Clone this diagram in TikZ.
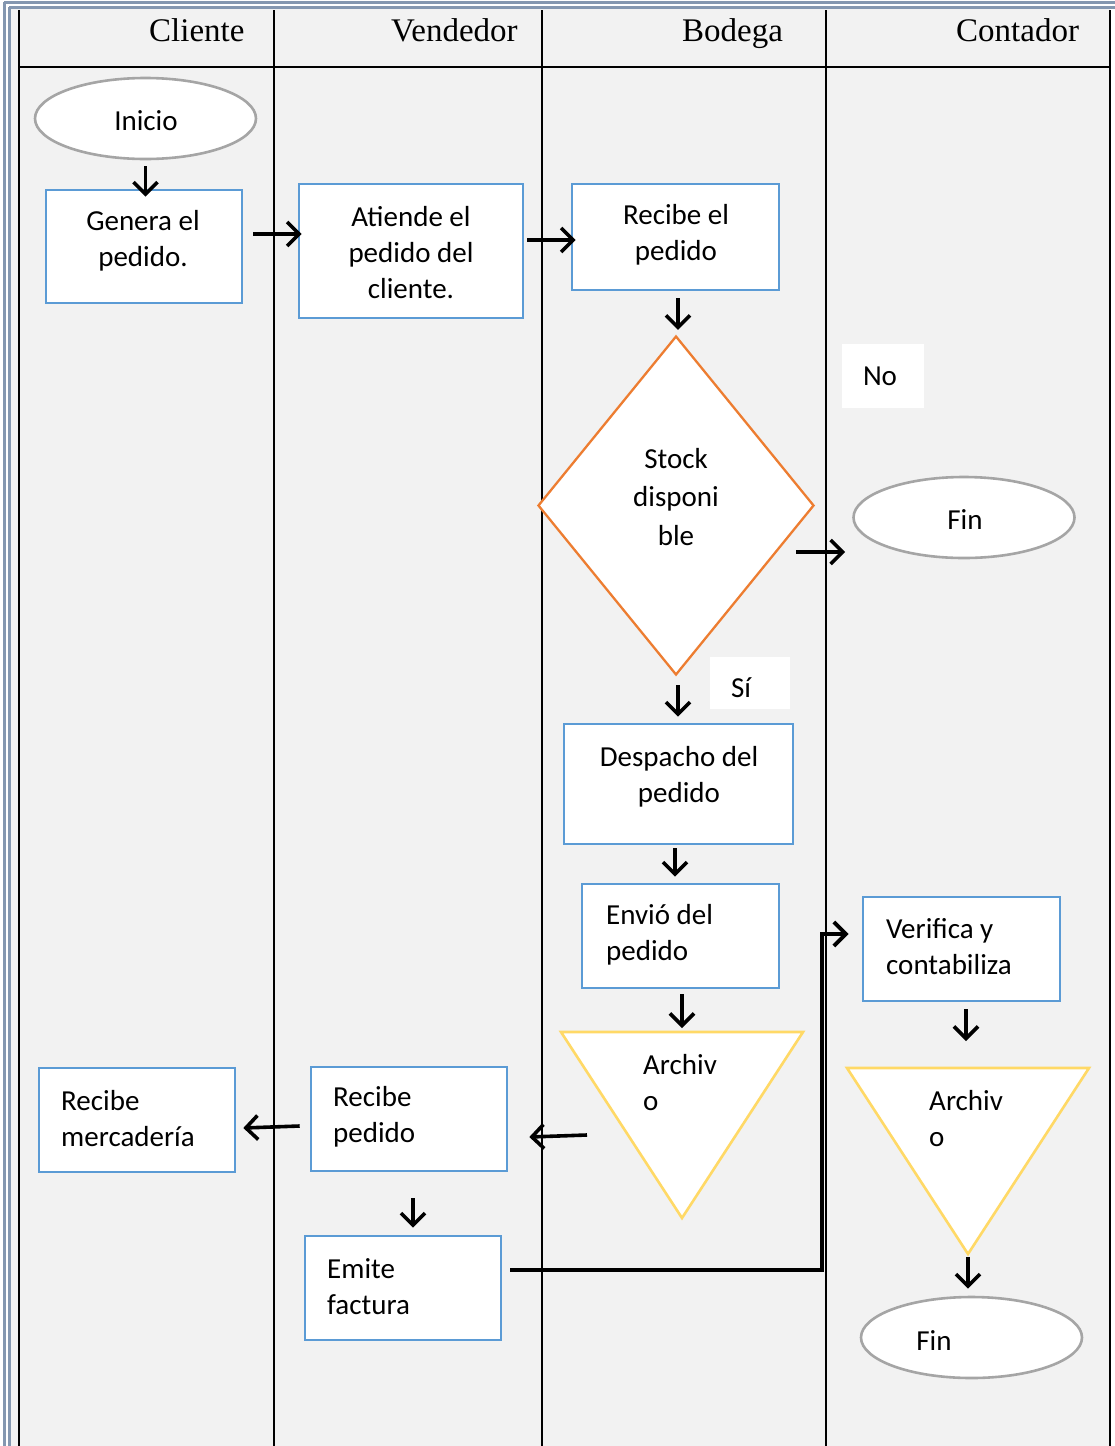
\documentclass[tikz,border=0pt]{standalone}
\usepackage{fontspec}
\setmainfont{Liberation Serif}
\newfontfamily\calfont{Carlito}
\usetikzlibrary{arrows.meta,calc,shapes.geometric}
\definecolor{bgc}{HTML}{F2F2F2}
\definecolor{pageline}{HTML}{8497B0}
\definecolor{boxblue}{HTML}{5B9BD5}
\definecolor{dorange}{HTML}{ED7D31}
\definecolor{tyellow}{HTML}{FFD966}
\definecolor{ellgray}{HTML}{A5A5A5}
\tikzset{
  lane/.style={line width=2.8pt,black},
  pageb/.style={line width=2.2pt,pageline},
  procbox/.style={draw=boxblue,line width=2.6pt,fill=white,rectangle,inner sep=0pt},
  termell/.style={draw=ellgray,line width=2.6pt,fill=white,ellipse,inner sep=0pt,minimum width=221pt,minimum height=81pt},
  decis/.style={draw=dorange,line width=2.3pt,fill=white,diamond,inner sep=0pt},
  archtri/.style={draw=tyellow,line width=2.6pt,fill=white,line join=miter},
  lbl/.style={fill=white,inner sep=0pt,font=\calfont\fontsize{29}{36}\selectfont},
  txt/.style={inner sep=0pt,align=center,font=\calfont\fontsize{29}{36}\selectfont},
  ltxt/.style={inner sep=0pt,align=left,anchor=west,font=\calfont\fontsize{29}{36}\selectfont},
  head/.style={inner sep=0pt,anchor=base west,font=\fontsize{33}{38}\selectfont},
  arr/.style={line width=3.6pt,black,-{Straight Barb[length=12pt,width=24pt]}},
}
\begin{document}
\begin{tikzpicture}[x=1pt,y=-1pt]
\useasboundingbox (0,0) rectangle (1115,1446);
% background and page border
\fill[white] (0,0) rectangle (1115,1446);
\fill[bgc] (10,8) rectangle (1110,1446);
\draw[pageb] (4,2.5) -- (1115,2.5);
\draw[pageb] (9,7.5) -- (1115,7.5);
\draw[pageb] (4.5,2) -- (4.5,1446);
\draw[pageb] (9.5,7) -- (9.5,1446);
% lanes
\foreach \xx in {19,274,542,826,1110} \draw[lane] (\xx,10) -- (\xx,1446);
\draw[lane] (19,67) -- (1110,67);
\node[head] (hcli) at (149,41) {Cliente};
\node[head] (hven) at (391,41) {Vendedor};
\node[head] (hbod) at (682,41) {Bodega};
\node[head] (hcon) at (956,41) {Contador};

% nodes
\node[termell] (inicio) at (145.5,118.5) {};
\node[txt] (iniciot) at (146,121) {Inicio};
\node[procbox,minimum width=196pt,minimum height=113pt] (genera) at (144,246.5) {};
\node[txt] (generat) at (143,241) {Genera el\\pedido.};
\node[procbox,minimum width=224pt,minimum height=134pt] (atiende) at (411,251) {};
\node[txt] (atiendet) at (411,253) {Atiende el\\pedido del\\cliente.};
\node[procbox,minimum width=207pt,minimum height=106pt] (recibe1) at (675.5,237) {};
\node[txt] (recibe1t) at (676,235) {Recibe el\\pedido};
\node[decis,minimum width=276pt,minimum height=339pt] (stock) at (676,505.5) {};
\node[txt,font=\calfont\fontsize{29}{38.5}\selectfont] (stockt) at (676,497) {Stock\\disponi\\ble};
\node[lbl,minimum width=82pt,minimum height=64pt] (no) at (883,376) {No\hspace*{6pt}};
\node[termell] (fin1) at (964,517.5) {};
\node[txt] (fin1t) at (965,520) {Fin};
\node[lbl,minimum width=80pt,minimum height=52pt] (si) at (750,683) {};
\node[txt] (sit) at (741,688) {Sí};
\node[procbox,minimum width=229pt,minimum height=120pt] (despacho) at (678.5,784) {};
\node[txt] (despachot) at (679,777) {Despacho del\\pedido};
\node[procbox,minimum width=197pt,minimum height=104pt] (envio) at (680.5,936) {};
\node[ltxt] (enviot) at (606,935) {Envió del\\pedido};
% archivo 1
\draw[archtri] (561,1032) -- (803,1032) -- (682,1218) -- cycle;
\coordinate (arch1top) at (682,1032);
\coordinate (arch1) at (682,1094);
\node[ltxt] (arch1t) at (643,1083) {Archiv\\o};
\node[procbox,minimum width=196pt,minimum height=104pt] (recibe2) at (409,1119) {};
\node[ltxt] (recibe2t) at (333,1117) {Recibe\\pedido};
\node[procbox,minimum width=196pt,minimum height=104pt] (merc) at (137,1120) {};
\node[ltxt] (merct) at (61,1119) {Recibe\\mercadería};
\node[procbox,minimum width=196pt,minimum height=104pt] (emite) at (403,1288) {};
\node[ltxt] (emitet) at (327,1287) {Emite\\factura};
\node[procbox,minimum width=197pt,minimum height=104pt] (verifica) at (961.5,949) {};
\node[ltxt] (verificat) at (886,947) {Verifica y\\contabiliza};
% archivo 2
\draw[archtri] (847,1068) -- (1089,1068) -- (968,1254) -- cycle;
\coordinate (arch2top) at (968,1068);
\coordinate (arch2bot) at (968,1254);
\node[ltxt] (arch2t) at (929,1119) {Archiv\\o};
\node[termell] (fin2) at (971.5,1337.5) {};
\node[txt] (fin2t) at (934,1341) {Fin};

% connectors
\draw[arr] ($(inicio.south)+(0,6)$) -- ($(inicio.south |- genera.north)+(0,8)$);
\draw[arr] ($(genera.east)+(10,-12.5)$) -- ($(atiende.west |- genera.east)+(4,-12.5)$);
\draw[arr] ($(atiende.east)+(3,-11)$) -- ($(recibe1.west |- atiende.east)+(5,-11)$);
\draw[arr] ($(recibe1.south)+(2.5,7)$) -- ($(recibe1.south |- stock.north)+(2.5,-5)$);
\draw[arr] ($(stock.east)+(-19,46.5)$) -- ($(fin1.west)+(-7,34.5)$);
\draw[arr] ($(stock.south)+(2,9)$) -- ($(stock.south |- despacho.north)+(2,-6)$);
\draw[arr] ($(despacho.south)+(-3.5,3)$) -- ($(despacho.south |- envio.north)+(-3.5,-6)$);
\draw[arr] ($(envio.south)+(1.5,5)$) -- ($(arch1top)+(0,-4)$);
\draw[arr] ($(arch1)+(-95,41)$) -- ($(recibe2.east)+(21,18)$);
\draw[arr] ($(recibe2.west)+(-10,7)$) -- ($(merc.east)+(7,8)$);
\draw[arr] ($(recibe2.south)+(4,26)$) -- ($(emite.north)+(10,-7)$);
\draw[arr,line width=4pt] ($(emite.east)+(8,-18)$) -| ($(verifica.west)+(-40,-15)$) -- ($(verifica.west)+(-13,-15)$);
\draw[arr] ($(verifica.south)+(4.5,7)$) -- ($(arch2top)+(-2,-27)$);
\draw[arr] ($(arch2bot)+(0,3)$) -- ($(fin2.north)+(-3.5,-7)$);
\end{tikzpicture}
\end{document}
